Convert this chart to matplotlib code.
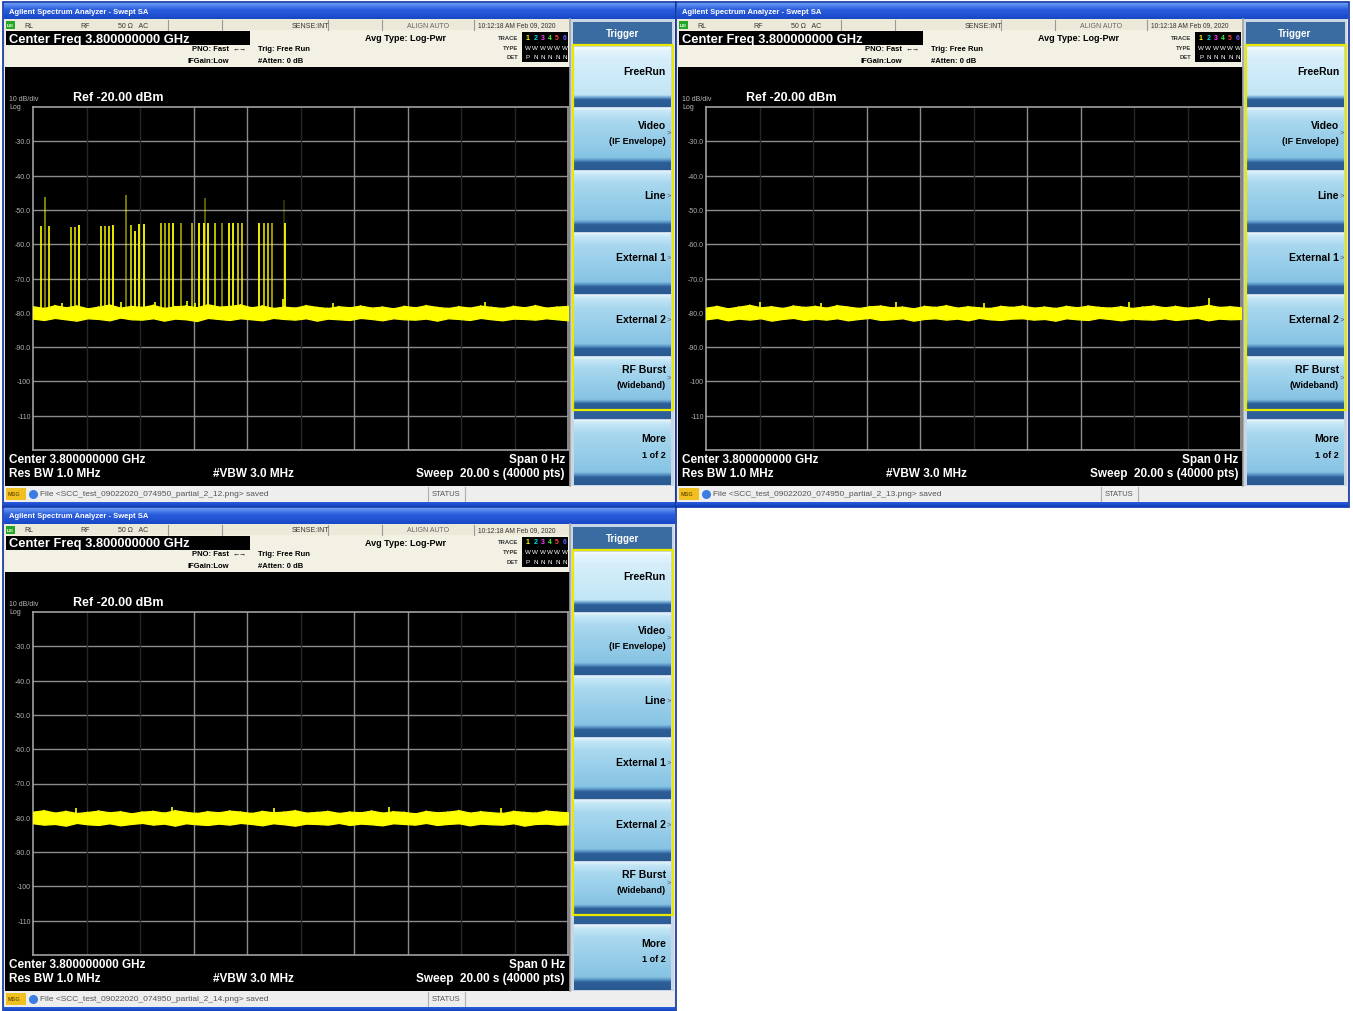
import numpy as np
import matplotlib.pyplot as plt
from matplotlib.patches import Rectangle
from matplotlib.colors import LinearSegmentedColormap

plt.rcParams['font.family'] = ['Liberation Sans', 'DejaVu Sans']

W, H = 1353, 1012
# offsets of the three analyzer screens (pixels)
offsets = [(0, 0), (673, 0), (0, 505)]
file_nums = [12, 13, 14]

sweep_time = 20.0
ref_level = -20.0
y_labels = ['-30.0', '-40.0', '-50.0', '-60.0', '-70.0', '-80.0', '-90.0', '-100', '-110']

# burst lines on the first sweep: time (s), top level (dBm), brightness
burst_t = [0.30, 0.45, 0.60, 1.41, 1.57, 1.73, 2.53, 2.69, 2.85, 3.00,
           3.47, 3.66, 3.82, 3.97, 4.14, 4.77, 4.93, 5.08, 5.24, 5.53,
           5.93, 6.22, 6.40, 6.43, 6.55, 6.80, 7.05, 7.33, 7.49, 7.65,
           7.80, 8.46, 8.64, 8.77, 8.92, 9.40, 9.42]
burst_top = [-54.6, -46.3, -54.6, -55.0, -55.0, -54.5, -54.6, -54.8, -54.8, -54.5,
             -45.8, -54.4, -56.2, -54.0, -54.0, -53.7, -53.7, -53.7, -53.7, -53.7,
             -53.7, -53.7, -53.7, -46.4, -53.7, -53.7, -53.7, -53.7, -53.7, -53.7,
             -53.7, -53.7, -53.7, -53.7, -53.7, -47.0, -53.7]
burst_int = [0.9, 0.55, 0.9, 0.8, 0.8, 1.0, 0.9, 0.8, 0.9, 1.0,
             0.5, 0.8, 1.0, 1.0, 1.0, 0.8, 0.7, 0.8, 1.0, 0.6,
             0.7, 1.0, 1.0, 0.4, 1.0, 0.8, 0.55, 1.0, 1.0, 0.8,
             0.8, 1.0, 0.8, 0.8, 0.65, 0.2, 1.0]

# noise floor envelope (dBm), 50 points across the sweep
noise_hi = [
    [-78.1, -78.6, -77.8, -78.4, -77.9, -78.7, -78.2, -77.6, -78.5, -78.0,
     -78.3, -77.7, -78.6, -78.1, -77.9, -78.4, -77.5, -78.2, -78.0, -77.6,
     -78.4, -77.9, -78.6, -78.2, -78.5, -77.8, -78.3, -78.6, -78.1, -78.4,
     -77.9, -78.5, -78.2, -78.7, -78.0, -78.4, -77.8, -78.3, -78.6, -78.1,
     -78.5, -77.9, -78.3, -78.6, -78.0, -78.4, -77.8, -78.5, -78.2, -78.0],
    [-78.5, -78.0, -78.7, -78.2, -77.7, -78.4, -78.1, -78.6, -77.9, -78.3,
     -78.0, -78.5, -77.8, -78.2, -78.6, -78.1, -77.9, -78.4, -78.2, -78.7,
     -78.0, -78.3, -77.8, -78.5, -78.1, -78.4, -78.6, -78.0, -78.3, -77.9,
     -78.5, -78.2, -78.6, -78.0, -78.4, -77.9, -78.3, -78.5, -78.1, -78.6,
     -78.2, -77.9, -78.4, -78.0, -78.5, -78.2, -77.7, -78.3, -78.1, -78.4],
    [-78.2, -77.8, -78.5, -78.0, -78.6, -78.3, -77.9, -78.4, -78.1, -78.7,
     -78.2, -78.0, -78.5, -77.8, -78.3, -78.6, -78.1, -78.4, -77.9, -78.2,
     -78.6, -78.0, -78.4, -78.2, -77.8, -78.5, -78.3, -78.0, -78.6, -78.2,
     -78.4, -77.9, -78.5, -78.1, -78.3, -78.7, -78.0, -78.4, -78.2, -77.8,
     -78.5, -78.1, -78.4, -78.6, -78.0, -78.3, -78.5, -77.9, -78.2, -78.4],
]
noise_lo = [
    [-81.7, -82.1, -81.5, -81.9, -82.3, -81.6, -81.8, -82.2, -81.4, -81.9,
     -82.0, -81.6, -82.3, -81.7, -81.9, -82.4, -81.5, -81.8, -82.1, -81.6,
     -81.9, -82.2, -81.5, -81.8, -82.0, -81.6, -82.3, -81.7, -81.9, -82.1,
     -81.5, -81.8, -82.2, -81.6, -81.9, -82.0, -81.7, -82.3, -81.6, -81.8,
     -82.1, -81.5, -81.9, -82.2, -81.7, -81.8, -82.0, -81.6, -81.9, -82.2],
    [-81.9, -81.5, -82.2, -81.7, -82.0, -81.6, -82.3, -81.8, -81.5, -82.1,
     -81.7, -82.0, -81.6, -82.2, -81.8, -81.5, -82.1, -81.9, -81.6, -82.3,
     -81.8, -81.6, -82.0, -81.7, -82.2, -81.5, -81.9, -82.1, -81.7, -81.6,
     -82.0, -81.8, -82.3, -81.6, -81.9, -82.1, -81.5, -81.8, -82.2, -81.7,
     -81.9, -82.0, -81.6, -82.1, -81.8, -81.5, -82.2, -81.7, -81.9, -81.8],
    [-81.6, -82.0, -81.8, -82.3, -81.5, -81.9, -82.1, -81.6, -82.2, -81.8,
     -81.5, -82.0, -81.7, -82.3, -81.6, -81.9, -82.1, -81.7, -82.0, -81.5,
     -81.8, -82.2, -81.6, -81.9, -82.3, -81.7, -81.8, -82.0, -81.5, -82.1,
     -81.7, -81.9, -82.2, -81.6, -81.8, -82.0, -81.5, -82.1, -81.8, -81.6,
     -82.2, -81.7, -81.9, -82.0, -81.6, -82.3, -81.8, -81.7, -82.0, -81.9],
]
# short noise spikes above the floor
spike_t = [[1.1, 3.3, 4.55, 5.75, 6.05, 9.35, 11.2, 16.9],
           [2.0, 4.3, 7.1, 10.4, 15.8, 18.8],
           [1.6, 5.2, 9.0, 13.3, 17.5]]
spike_top = [[-77.0, -76.8, -76.9, -76.6, -77.1, -75.9, -77.0, -76.9],
             [-76.9, -77.0, -76.8, -77.1, -76.9, -75.8],
             [-77.0, -76.8, -77.1, -76.9, -77.0]]

fig = plt.figure(figsize=(W / 100, H / 100), dpi=100, facecolor='white')
bg = fig.add_axes([0, 0, 1, 1])
bg.axis('off')


def box(x0, y0, x1, y1, fc, ec='none', lw=0, z=1):
    bg.add_patch(Rectangle((x0, y0), x1 - x0, y1 - y0, facecolor=fc,
                           edgecolor=ec, linewidth=lw, zorder=z))


def grad(x0, y0, x1, y1, stops, colors, z=2):
    cm = LinearSegmentedColormap.from_list('g', list(zip(stops, colors)))
    arr = np.linspace(0, 1, 256).reshape(-1, 1)
    bg.imshow(arr, cmap=cm, extent=(x0, x1, y1, y0), aspect='auto',
              zorder=z, interpolation='bilinear')


def txt(x, y, s, size, color='black', ha='left', weight='normal', z=5):
    bg.text(x, y, s, fontsize=size, color=color, ha=ha, va='center',
            fontweight=weight, zorder=z)


btn_stops = [0, 0.05, 0.2, 0.8, 0.84, 0.88, 1.0]
btn_cols = ['#e4f3fb', '#c6e7f6', '#a9d8ef', '#86c3e3', '#5a97c6', '#2d5e97', '#2a5a92']
sel_cols = ['#f6fcff', '#e6f5fc', '#d6eefa', '#c3e6f6', '#6aa3cf', '#2d5e97', '#2a5a92']

buttons = [(47, 108, ['FreeRun'], False),
           (108, 171, ['Video', '(IF Envelope)'], True),
           (171, 233, ['Line'], True),
           (233, 295, ['External 1'], True),
           (295, 357, ['External 2'], True),
           (357, 411, ['RF Burst', '(Wideband)'], True),
           (420, 486, ['More', '1 of 2'], False)]

for k, (dx, dy) in enumerate(offsets):
    X = lambda v: v + dx
    Y = lambda v: v + dy

    # window frame and title bar
    box(X(3), Y(3), X(676), Y(508), '#ece9d8', '#0a32a8', 1.2, z=0.5)
    grad(X(4), Y(4), X(675), Y(20), [0, 0.4, 1], ['#6a9cf2', '#2a5ede', '#1847c6'])
    txt(X(9), Y(12), 'Agilent Spectrum Analyzer - Swept SA', 5.5, 'white', weight='bold')
    grad(X(4), Y(503), X(675), Y(508), [0, 1], ['#2a5ede', '#0f3cb8'])

    # status row
    box(X(5), Y(21), X(570), Y(31), '#ece9d8', z=1)
    box(X(6), Y(22), X(15), Y(30), '#26a626', z=2)
    txt(X(7), Y(26), 'LXI', 3.2, 'white', weight='bold')
    txt(X(24), Y(26), 'RL', 5, '#333333')
    txt(X(80), Y(26), 'RF', 5, '#333333')
    txt(X(118), Y(26), '50 Ω   AC', 5, '#333333')
    txt(X(292), Y(26), 'SENSE:INT', 5, '#333333')
    txt(X(407), Y(26), 'ALIGN AUTO', 5, '#666666')
    txt(X(478), Y(26), '10:12:18 AM Feb 09, 2020', 4.8, '#333333')
    for sx in [168, 222, 328, 382, 474]:
        bg.plot([X(sx), X(sx)], [Y(21), Y(31)], color='#9a9a9a', lw=0.8, zorder=3)

    # header block
    box(X(5), Y(31), X(570), Y(68), '#f3f0e4', z=1)
    box(X(6), Y(32), X(250), Y(46), 'black', z=2)
    txt(X(9), Y(39.5), 'Center Freq 3.800000000 GHz', 9.3, 'white', weight='bold')
    txt(X(229), Y(49), 'PNO: Fast', 5.5, 'black', ha='right', weight='bold')
    txt(X(233), Y(49), '←→', 5, 'black')
    txt(X(229), Y(61), 'IFGain:Low', 5.5, 'black', ha='right', weight='bold')
    txt(X(258), Y(49), 'Trig: Free Run', 5.5, 'black', weight='bold')
    txt(X(258), Y(61), '#Atten: 0 dB', 5.5, 'black', weight='bold')
    txt(X(365), Y(38), 'Avg Type: Log-Pwr', 6.5, 'black', weight='bold')
    box(X(522), Y(33), X(568), Y(63), 'black', z=2)
    txt(X(518), Y(38), 'TRACE', 4.2, '#333333', ha='right', weight='bold')
    txt(X(518), Y(48), 'TYPE', 4.2, '#333333', ha='right', weight='bold')
    txt(X(518), Y(57), 'DET', 4.2, '#333333', ha='right', weight='bold')
    for j, c in enumerate(['#ffff00', '#00e5e5', '#ff40ff', '#40ff40', '#ff4040', '#6060ff']):
        txt(X(526 + 7.3 * j), Y(38), str(j + 1), 5, c, weight='bold')
        txt(X(525 + 7.3 * j), Y(48), 'W', 4.5, 'white')
        txt(X(526 + 7.3 * j), Y(57), 'P' if j == 0 else 'N', 4.5, 'white')

    # black screen area
    box(X(5), Y(68), X(570), Y(487), 'black', z=1)
    bg.plot([X(570), X(570)], [Y(20), Y(487)], color='#a0a0a0', lw=1.2, zorder=3)
    txt(X(9), Y(99), '10 dB/div', 5, '#bbbbbb')
    txt(X(9), Y(107), 'Log', 5, '#bbbbbb')
    txt(X(73), Y(98), 'Ref -20.00 dBm', 9, 'white', weight='bold')
    for i, lab in enumerate(y_labels):
        txt(X(31), Y(142.8 + 34.3 * i), lab, 5, '#b0b0b0', ha='right')
    txt(X(9), Y(460), 'Center 3.800000000 GHz', 8.5, 'white', weight='bold')
    txt(X(9), Y(474), 'Res BW 1.0 MHz', 8.5, 'white', weight='bold')
    txt(X(213), Y(474), '#VBW 3.0 MHz', 8.5, 'white', weight='bold')
    txt(X(565), Y(460), 'Span 0 Hz', 8.5, 'white', ha='right', weight='bold')
    txt(X(565), Y(474), 'Sweep  20.00 s (40000 pts)', 8.5, 'white', ha='right', weight='bold')

    # softkey panel
    box(X(571), Y(20), X(674), Y(487), '#c9d6e3', z=1)
    box(X(573), Y(23), X(672), Y(45), '#3a6ca2', z=2)
    txt(X(622), Y(34), 'Trigger', 7, 'white', ha='center', weight='bold')
    for b0, b1, lines, arrow in buttons:
        grad(X(574), Y(b0 + 1), X(671), Y(b1), btn_stops,
             sel_cols if lines[0] == 'FreeRun' else btn_cols)
        mid = (b0 + b1) / 2 - 6
        if len(lines) == 1:
            txt(X(666), Y(mid), lines[0], 7.5, 'black', ha='right', weight='bold')
        else:
            txt(X(666), Y(mid - 8), lines[0], 7.5, 'black', ha='right', weight='bold')
            txt(X(666), Y(mid + 8), lines[1], 6.5, 'black', ha='right', weight='bold')
        if arrow:
            txt(X(667), Y(mid), '>', 5.5, '#555555')
    box(X(574), Y(411), X(671), Y(420), '#2d5e97', z=2)
    box(X(572.5), Y(46), X(672.5), Y(411), 'none', '#e8e800', 1.6, z=4)

    # message bar
    box(X(5), Y(487), X(674), Y(503), '#eeeeee', z=1)
    box(X(6), Y(489), X(26), Y(501), '#f0c020', z=2)
    txt(X(8), Y(495), 'MSG', 4, '#7a5a00', weight='bold')
    bg.scatter([X(33)], [Y(495)], s=30, color='#3b7de0', zorder=3)
    txt(X(40), Y(495), 'File <SCC_test_09022020_074950_partial_2_%d.png> saved' % file_nums[k],
        6, '#555555')
    txt(X(432), Y(495), 'STATUS', 5.5, '#555555')
    for sx in [428, 465]:
        bg.plot([X(sx), X(sx)], [Y(488), Y(502)], color='#b0b0b0', lw=0.8, zorder=3)

    # trace graticule
    ax = fig.add_axes([X(33) / W, 1 - Y(451) / H, 535 / W, 343 / H])
    ax.set_facecolor('none')
    ax.set_xlim(0, sweep_time)
    ax.set_ylim(ref_level - 100, ref_level)
    ax.set_xticks([])
    ax.set_yticks([])
    for s in ax.spines.values():
        s.set_color('#a0a0a0')
        s.set_linewidth(1.2)
    for lv in range(-30, -111, -10):
        ax.axhline(lv, color='#8c8c8c', lw=1.0, zorder=0.5)
    for i in range(1, 10):
        bright = i in (3, 4, 6, 7)
        ax.axvline(2 * i, color='#8c8c8c' if bright else '#262626', lw=1.0, zorder=0.5)

    if k == 0:
        for t, top, a in zip(burst_t, burst_top, burst_int):
            ax.vlines(t, -80, top, color='#ffff00', alpha=a, lw=1.3, zorder=2)
    nt = np.linspace(0, sweep_time, len(noise_hi[k]))
    ax.fill_between(nt, noise_lo[k], noise_hi[k], color='#ffff00', lw=0.9, zorder=3)
    # zigzag between the envelopes gives the ragged noise edge
    zt = np.repeat(nt, 2)[1:-1]
    zy = np.column_stack([noise_hi[k], noise_lo[k]]).ravel()[1:-1]
    ax.plot(zt, zy, color='#ffff00', lw=0.8, zorder=3)
    ax.vlines(spike_t[k], -79, spike_top[k], color='#ffff00', lw=1.2, zorder=3)

bg.set_xlim(0, W)
bg.set_ylim(H, 0)
fig.savefig('out.png', dpi=100, facecolor='white')
